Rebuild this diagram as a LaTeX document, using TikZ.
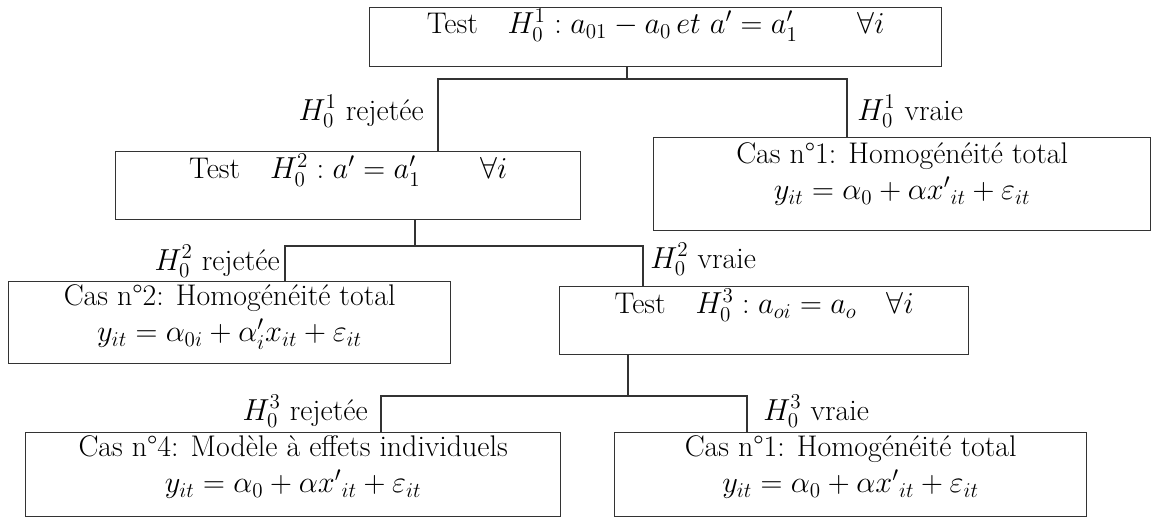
\documentclass[tikz,border=0pt]{standalone}
\usepackage{amsmath,amssymb}
\usepackage{tikz}
\tikzset{TreeBox/.style={draw=black!80,thick,rectangle,anchor=north west,align=center,inner xsep=0pt,inner ysep=0pt,font=\fontsize{17}{20.5}\selectfont}}
\tikzset{TreeLab/.style={inner sep=0pt,font=\fontsize{17}{20.5}\selectfont}}
\tikzset{TreeLine/.style={draw=black!80,thick}}

\begin{document}
\begin{tikzpicture}[x=0.02cm,y=-0.02cm]
	\useasboundingbox (0,0) rectangle (1151,518);
	\node[TreeBox,minimum width=11.44cm,text height=0.52cm,text depth=0.66cm] (t1) at (369,7) {Test\quad $H_0^1 : a_{01} - a_0\, et\ a' = a'_1$\qquad$\forall i$};
	\node[TreeBox,minimum width=9.3cm,text height=0.54cm,text depth=0.82cm] (t2) at (115,151) {Test\quad $H_0^2 : a' = a'_1$\qquad$\forall i$};
	\node[TreeBox,minimum width=9.94cm,text height=1.24cm,text depth=0.62cm] (c1) at (653,137) {Cas n°1: Homogénéité total\\ $y_{it} = \alpha_0 + \alpha {x'}_{it} + \varepsilon_{it}$};
	\node[TreeBox,minimum width=8.84cm,text height=1.2cm,text depth=0.44cm] (c2) at (8,281) {Cas n°2: Homogénéité total\\ $y_{it} = \alpha_{0i} + \alpha'_i x_{it} + \varepsilon_{it}$};
	\node[TreeBox,minimum width=8.18cm,text height=0.54cm,text depth=0.82cm] (t3) at (559,286) {Test\quad $H_0^3 : a_{oi} = a_o$\quad$\forall i$};
	\node[TreeBox,minimum width=10.7cm,text height=1.2cm,text depth=0.48cm] (c4) at (25,432) {Cas n°4: Modèle à effets individuels\\ $y_{it} = \alpha_0 + \alpha {x'}_{it} + \varepsilon_{it}$};
	\node[TreeBox,minimum width=9.44cm,text height=1.2cm,text depth=0.48cm] (c5) at (614,432) {Cas n°1: Homogénéité total\\ $y_{it} = \alpha_0 + \alpha {x'}_{it} + \varepsilon_{it}$};
	%
	\node[TreeLab,anchor=base east] (rej1) at (424,120) {$H_0^1$ rejetée};
	\node[TreeLab,anchor=base west] (vra1) at (857,120) {$H_0^1$ vraie};
	\node[TreeLab,anchor=base east] (rej2) at (280,270) {$H_0^2$ rejetée};
	\node[TreeLab,anchor=base west] (vra2) at (650,268) {$H_0^2$ vraie};
	\node[TreeLab,anchor=base east] (rej3) at (368,420) {$H_0^3$ rejetée};
	\node[TreeLab,anchor=base west] (vra3) at (763,420) {$H_0^3$ vraie};
	%
	\coordinate (s1) at (627,79);
	\coordinate (l1) at (438,79);
	\coordinate (r1) at (847,79);
	\coordinate (s2) at (415,246);
	\coordinate (l2) at (285,246);
	\coordinate (r2) at (643,246);
	\coordinate (s3) at (628,396);
	\coordinate (l3) at (381,396);
	\coordinate (r3) at (747,396);
	%
	\draw[TreeLine] (t1.south -| s1) -- (s1);
	\draw[TreeLine] (l1 |- t2.north) -- (l1) -- (r1) -- (r1 |- c1.north);
	\draw[TreeLine] (t2.south -| s2) -- (s2);
	\draw[TreeLine] (l2 |- c2.north) -- (l2) -- (r2) -- (r2 |- t3.north);
	\draw[TreeLine] (t3.south -| s3) -- (s3);
	\draw[TreeLine] (l3 |- c4.north) -- (l3) -- (r3) -- (r3 |- c5.north);
\end{tikzpicture}
\end{document}
